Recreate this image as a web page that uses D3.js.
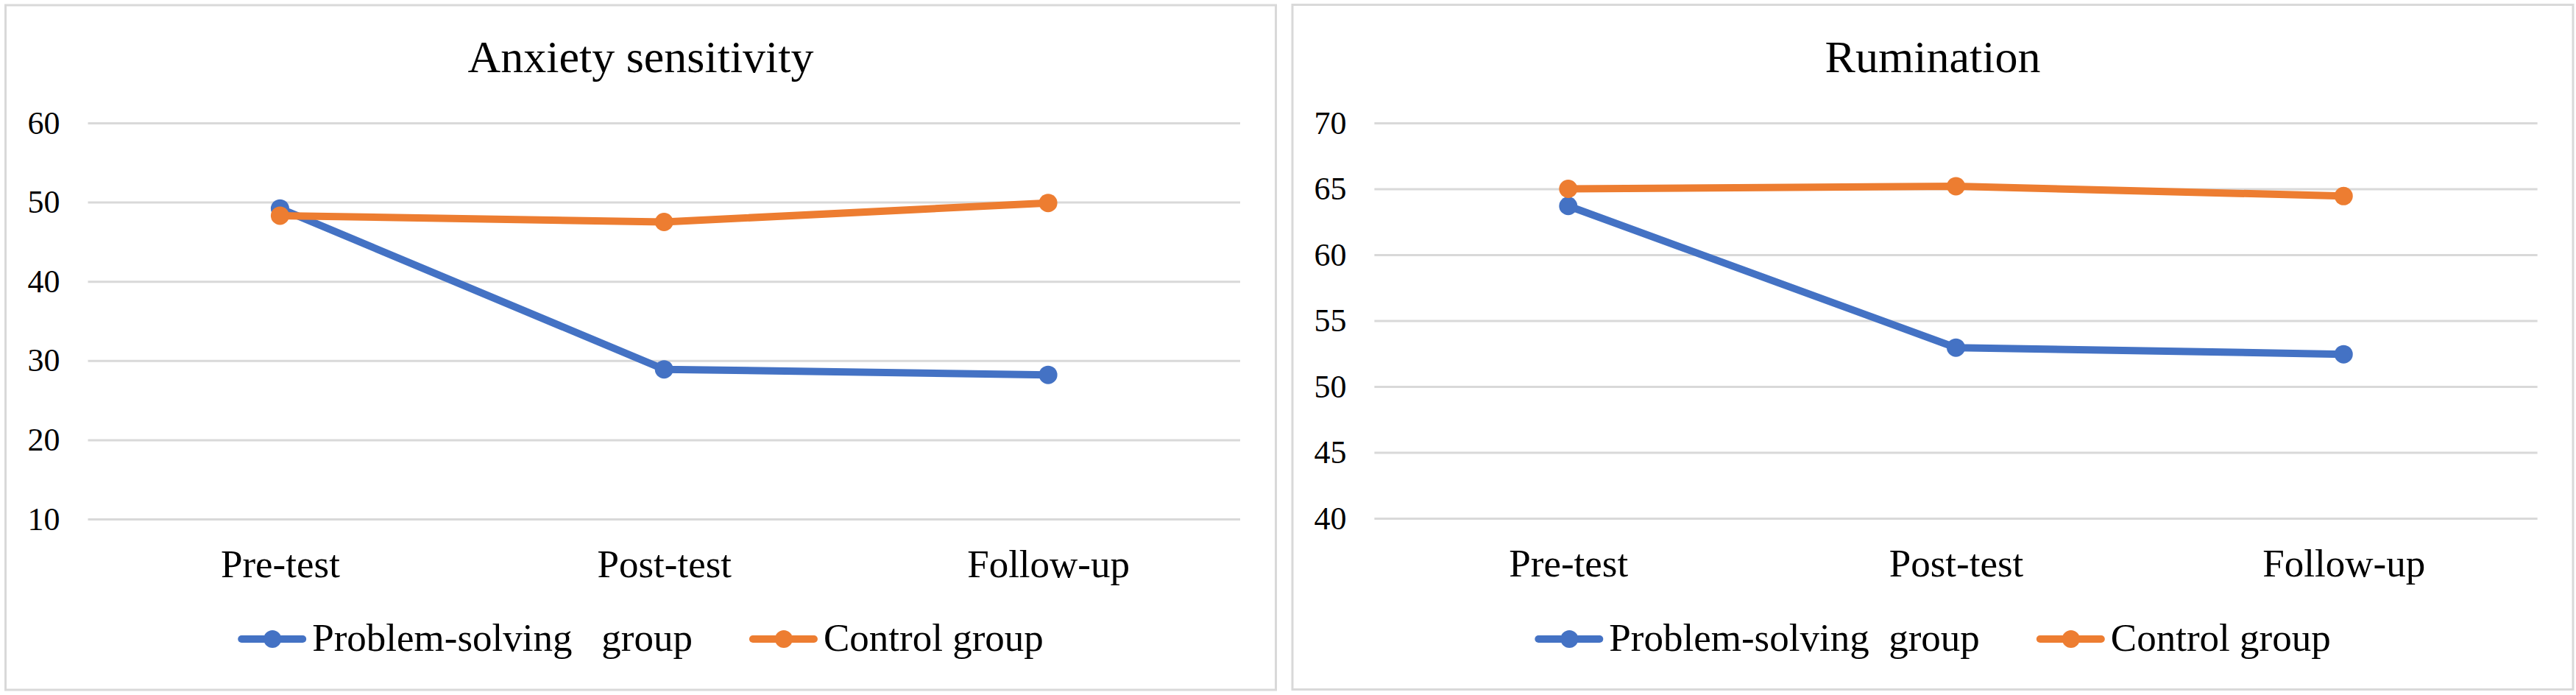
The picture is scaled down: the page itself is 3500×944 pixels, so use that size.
<!DOCTYPE html>
<html>
<head>
<meta charset="utf-8">
<script src="https://cdn.jsdelivr.net/npm/d3@7"></script>
<style>
  body { margin: 0; background: #fff; }
  text { font-family: "Liberation Serif", "Times New Roman", serif; fill: #000; }
  .grid line { stroke: #d9d9d9; stroke-width: 3; }
  .grid .domain { display: none; }
</style>
</head>
<body>
<div id="chart"></div>
<script>
var width = 3500, height = 944;

// data
var categories = ['Pre-test', 'Post-test', 'Follow-up'];
var seriesNames = ['Problem-solving group', 'Control group'];
var anxietyPS = [49.2, 28.9, 28.2];
var anxietyControl = [48.3, 47.5, 49.9];
var ruminationPS = [63.7, 52.95, 52.45];
var ruminationControl = [65.0, 65.2, 64.45];
var anxietyTicks = [10, 20, 30, 40, 50, 60];
var ruminationTicks = [40, 45, 50, 55, 60, 65, 70];

var colors = ['#4472c4', '#ed7d31'];

var panels = [
  {title: 'Anxiety sensitivity', ticks: anxietyTicks, series: [anxietyPS, anxietyControl],
   legend: ['Problem-solving   group', 'Control group'],
   box: [7.5, 7, 1726, 930], plot: [119.5, 167, 1685, 705]},
  {title: 'Rumination', ticks: ruminationTicks, series: [ruminationPS, ruminationControl],
   legend: ['Problem-solving  group', 'Control group'],
   box: [1756, 6.5, 1740, 930], plot: [1867.4, 167, 3447.6, 704]}
];

var svg = d3.select('#chart').append('svg')
  .attr('width', width)
  .attr('height', height);

panels.forEach(function(p) {
  var g = svg.append('g');
  var b = p.box, pl = p.plot;
  var cx = b[0] + b[2] / 2;

  g.append('rect')
    .attr('x', b[0]).attr('y', b[1])
    .attr('width', b[2]).attr('height', b[3])
    .attr('fill', '#fff')
    .attr('stroke', '#d9d9d9')
    .attr('stroke-width', 3);

  g.append('text')
    .attr('x', cx).attr('y', 98)
    .attr('text-anchor', 'middle')
    .style('font-size', '62px')
    .text(p.title);

  var x = d3.scalePoint().domain(categories).range([pl[0], pl[2]]).padding(0.5);
  var y = d3.scaleLinear().domain(d3.extent(p.ticks)).range([pl[3], pl[1]]);

  // gridlines + y labels
  g.append('g')
    .attr('class', 'grid')
    .attr('transform', 'translate(' + pl[0] + ',0)')
    .call(d3.axisLeft(y).tickValues(p.ticks).tickSize(-(pl[2] - pl[0])).tickPadding(38))
    .call(function(s) { s.selectAll('text').style('font-size', '44px').attr('font-family', null); });

  // category labels
  g.append('g')
    .attr('transform', 'translate(0,' + pl[3] + ')')
    .call(d3.axisBottom(x).tickSize(0).tickPadding(41))
    .call(function(s) {
      s.select('.domain').remove();
      s.selectAll('text').style('font-size', '53px').attr('font-family', null);
    });

  var line = d3.line()
    .x(function(d, i) { return x(categories[i]); })
    .y(function(d) { return y(d); });

  p.series.forEach(function(vals, si) {
    g.append('path')
      .datum(vals)
      .attr('d', line)
      .attr('fill', 'none')
      .attr('stroke', colors[si])
      .attr('stroke-width', 10)
      .attr('stroke-linejoin', 'round');
    g.selectAll('.pt' + si)
      .data(vals).enter()
      .append('circle')
      .attr('cx', function(d, i) { return x(categories[i]); })
      .attr('cy', function(d) { return y(d); })
      .attr('r', 12.5)
      .attr('fill', colors[si]);
  });

  // legend
  var lg = g.append('g');
  var xpos = 0;
  p.legend.forEach(function(name, si) {
    var item = lg.append('g').attr('transform', 'translate(' + xpos + ',0)');
    item.append('line')
      .attr('x1', 5).attr('x2', 88)
      .attr('y1', 868).attr('y2', 868)
      .attr('stroke', colors[si])
      .attr('stroke-width', 10)
      .attr('stroke-linecap', 'round');
    item.append('circle')
      .attr('cx', 47).attr('cy', 868).attr('r', 12)
      .attr('fill', colors[si]);
    var t = item.append('text')
      .attr('x', 101).attr('y', 884)
      .style('font-size', '53px')
      .style('white-space', 'pre')
      .text(name);
    xpos += 101 + t.node().getComputedTextLength() + 77;
  });
  var lw = xpos - 77;
  lg.attr('transform', 'translate(' + (cx - lw / 2) + ',0)');
});
</script>
</body>
</html>
